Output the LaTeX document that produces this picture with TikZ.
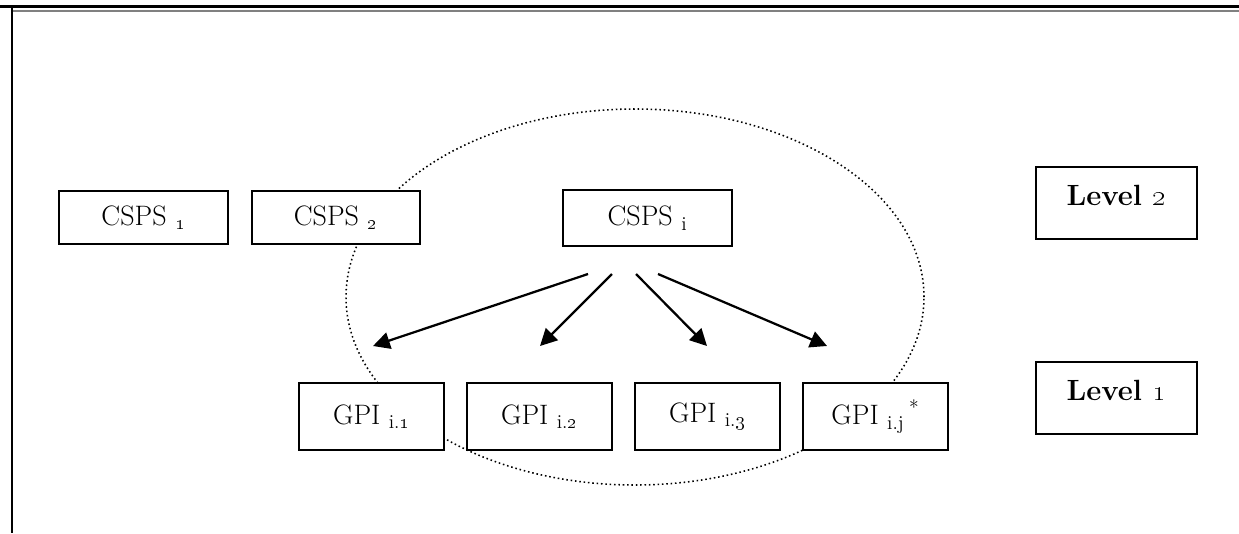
\documentclass[tikz,border=0pt]{standalone}
\usepackage{tikz}
\usepackage{xcolor}
\usetikzlibrary{arrows.meta}

\begin{document}
\begin{tikzpicture}[node distance=4.2cm, auto,
    unitbox/.style={draw, rectangle, fill=white, line width=1.6pt, inner sep=0pt,
        font=\fontsize{20}{24}\selectfont},
    levelbox/.style={draw, rectangle, line width=1.4pt, inner sep=0pt, anchor=base,
        minimum width=4.025cm, text height=0.95cm, text depth=0.85cm,
        font=\fontsize{20.8}{25}\selectfont\bfseries},
    link/.style={line width=1.6pt, -{Triangle[length=0.42cm, width=0.42cm]}}]
    \useasboundingbox (0,0) rectangle (30.975,-13.325);
    % page frame
    \draw[line width=1.6pt] (0,-0.16) -- (30.975,-0.16);
    \draw[gray, line width=1.6pt] (0.33,-0.27) -- (30.975,-0.27);
    \draw[line width=1.8pt] (0.295,-0.13) -- (0.295,-13.325);
    % group of CSPS i
    \draw[dotted, line width=1.1pt] (15.875,-7.425) ellipse (7.225cm and 4.7cm);
    % level 2
    \node[unitbox, minimum width=4.225cm, minimum height=1.325cm] (csps1) at (3.5875,-5.4375) {CSPS \textsubscript{\oldstylenums{1}}};
    \node[unitbox, minimum width=4.2cm, minimum height=1.325cm, right of=csps1, node distance=4.81cm] (csps2) {CSPS \textsubscript{\oldstylenums{2}}};
    \node[unitbox, minimum width=4.225cm, minimum height=1.4cm] (cspsi) at (16.1875,-5.45) {CSPS \textsubscript{i}};
    % level 1
    \node[unitbox, minimum width=3.625cm, minimum height=1.675cm] (gpi1) at (9.2875,-10.4125) {GPI \textsubscript{i.\oldstylenums{1}}};
    \node[unitbox, minimum width=3.625cm, minimum height=1.675cm, right of=gpi1] (gpi2) {GPI \textsubscript{i.\oldstylenums{2}}};
    \node[unitbox, minimum width=3.625cm, minimum height=1.675cm, right of=gpi2] (gpi3) {GPI \textsubscript{i.\oldstylenums{3}}};
    \node[unitbox, minimum width=3.625cm, minimum height=1.675cm, right of=gpi3] (gpij) {GPI \textsubscript{i.j}\,\textsuperscript{*}};
    % levels
    \node[levelbox] (level2) at (27.9125,-5.125) {Level \oldstylenums{2}};
    \node[levelbox] (level1) at (27.9125,-10.0) {Level \oldstylenums{1}};
    % arrows
    \coordinate (from1) at (14.7,-6.85);
    \coordinate (from2) at (15.3,-6.85);
    \coordinate (from3) at (15.9,-6.85);
    \coordinate (from4) at (16.45,-6.85);
    \coordinate (to1) at (9.325,-8.65);
    \coordinate (to2) at (13.5,-8.65);
    \coordinate (to3) at (17.675,-8.65);
    \coordinate (to4) at (20.675,-8.65);
    \draw[link] (from1) -- (to1);
    \draw[link] (from2) -- (to2);
    \draw[link] (from3) -- (to3);
    \draw[link] (from4) -- (to4);
\end{tikzpicture}
\end{document}
